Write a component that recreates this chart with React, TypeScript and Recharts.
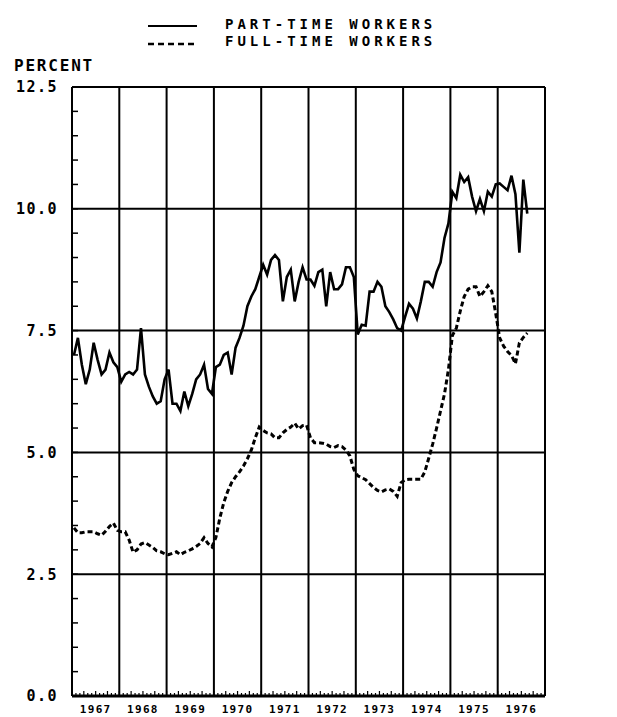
import { Line, LineChart, ReferenceLine, XAxis, YAxis } from "recharts";

// monthly values, Jan 1967 .. Aug 1976
const years = ["1967", "1968", "1969", "1970", "1971", "1972", "1973", "1974", "1975", "1976"];

const partTime = [
    7.0, 7.35, 6.8, 6.4, 6.7, 7.25, 6.9, 6.6, 6.7, 7.05, 6.85, 6.75,
    6.45, 6.6, 6.65, 6.6, 6.7, 7.55, 6.6, 6.35, 6.15, 6.0, 6.05, 6.5,
    6.7, 6.0, 6.0, 5.85, 6.25, 5.95, 6.2, 6.5, 6.6, 6.8, 6.3, 6.2,
    6.75, 6.8, 7.0, 7.05, 6.6, 7.15, 7.35, 7.6, 8.0, 8.2, 8.35, 8.6,
    8.85, 8.65, 8.95, 9.05, 8.95, 8.1, 8.6, 8.75, 8.1, 8.5, 8.8, 8.55,
    8.55, 8.42, 8.7, 8.75, 8.0, 8.7, 8.35, 8.35, 8.45, 8.8, 8.8, 8.6,
    7.42, 7.62, 7.6, 8.3, 8.3, 8.5, 8.4, 8.0, 7.88, 7.73, 7.55, 7.5,
    7.78, 8.05, 7.95, 7.75, 8.1, 8.5, 8.5, 8.4, 8.7, 8.9, 9.4, 9.7,
    10.35, 10.22, 10.7, 10.55, 10.65, 10.25, 9.95, 10.2, 9.95, 10.35, 10.25, 10.5,
    10.52, 10.45, 10.38, 10.68, 10.3, 9.1, 10.6, 9.9,
];

const fullTime = [
    3.45, 3.35, 3.35, 3.37, 3.37, 3.37, 3.33, 3.3, 3.38, 3.48, 3.55, 3.4,
    3.37, 3.37, 3.2, 2.95, 3.0, 3.12, 3.15, 3.1, 3.05, 2.98, 2.96, 2.92,
    2.9, 2.93, 2.96, 2.9, 2.95, 2.98, 3.02, 3.07, 3.13, 3.25, 3.13, 3.06,
    3.25, 3.65, 3.97, 4.2, 4.38, 4.5, 4.6, 4.72, 4.87, 5.05, 5.3, 5.52,
    5.45, 5.4, 5.38, 5.3, 5.3, 5.4, 5.47, 5.52, 5.6, 5.48, 5.55, 5.56,
    5.3, 5.2, 5.2, 5.19, 5.17, 5.12, 5.1, 5.14, 5.12, 5.05, 4.93, 4.65,
    4.52, 4.48, 4.44, 4.36, 4.28, 4.22, 4.19, 4.23, 4.25, 4.2, 4.1, 4.38,
    4.44, 4.45, 4.45, 4.45, 4.45, 4.6, 4.88, 5.17, 5.5, 5.85, 6.2, 6.7,
    7.4, 7.55, 7.9, 8.2, 8.35, 8.4, 8.4, 8.2, 8.3, 8.42, 8.3, 7.85,
    7.35, 7.18, 7.07, 6.99, 6.82, 7.25, 7.36, 7.45,
];

const majorTicks = [0, 2.5, 5, 7.5, 10, 12.5];

const data = partTime.map((v, i) => ({ month: i + 0.5, partTime: v, fullTime: fullTime[i] }));

const monthTicks = Array.from({ length: years.length * 12 + 1 }, (_, i) => i);
const yearLines = Array.from({ length: years.length - 1 }, (_, i) => (i + 1) * 12);
const minorTicks = Array.from({ length: 26 }, (_, i) => i * 0.5);

const font = "'DejaVu Sans Mono', monospace";

function MonthTick({ x, y, payload }: any) {
    const m = payload.value;
    const len = m % 3 === 0 ? 5 : 3;
    const yi = (m - 6) / 12;
    const label = Number.isInteger(yi) ? years[yi] : undefined;
    return (
        <g>
            <line x1={x} x2={x} y1={y} y2={y - len} stroke="#000" strokeWidth={1.2} />
            {label && (
                <text x={x} y={y + 17} textAnchor="middle" fontFamily={font} fontWeight="bold" fontSize={11} letterSpacing={1.3} fill="#000">
                    {label}
                </text>
            )}
        </g>
    );
}

function LeftTick({ x, y, payload }: any) {
    const v = payload.value;
    return (
        <g>
            {v > 0 && v < 12.5 && <line x1={x} x2={x + 6} y1={y} y2={y} stroke="#000" strokeWidth={1.5} />}
            {majorTicks.includes(v) && (
                <text x={x - 14} y={y} dy="0.36em" textAnchor="end" fontFamily={font} fontWeight="bold" fontSize={15} letterSpacing={1.5} fill="#000">
                    {v.toFixed(1)}
                </text>
            )}
        </g>
    );
}

function RightTick({ x, y, payload }: any) {
    const v = payload.value;
    return (
        <g>
            {v > 0 && v < 12.5 && <line x1={x} x2={x - 6} y1={y} y2={y} stroke="#000" strokeWidth={1.5} />}
            {majorTicks.includes(v) && (
                <text x={x + 10} y={y} dy="0.36em" textAnchor="start" fontFamily={font} fontWeight="bold" fontSize={15} letterSpacing={1.5} fill="#000">
                    {v.toFixed(1)}
                </text>
            )}
        </g>
    );
}

export default function App() {
    const textStyle = { fontFamily: font, fontWeight: "bold" as const, fill: "#000" };
    return (
        <div style={{ position: "absolute", left: 0, top: 0, width: 617, height: 717, background: "#fff" }}>
            <LineChart width={617} height={717} data={data} margin={{ top: 87, right: 12, bottom: 1, left: 12 }}>
                <XAxis
                    dataKey="month"
                    type="number"
                    domain={[0, years.length * 12]}
                    ticks={monthTicks}
                    interval={0}
                    height={20}
                    tickSize={0}
                    tickMargin={0}
                    tick={<MonthTick />}
                    axisLine={{ stroke: "#000", strokeWidth: 3 }}
                />
                <YAxis
                    yAxisId="left"
                    domain={[0, 12.5]}
                    ticks={minorTicks}
                    interval={0}
                    width={60}
                    tickSize={0}
                    tickMargin={0}
                    tick={<LeftTick />}
                    axisLine={{ stroke: "#000", strokeWidth: 2 }}
                />
                <YAxis
                    yAxisId="right"
                    orientation="right"
                    domain={[0, 12.5]}
                    ticks={minorTicks}
                    interval={0}
                    width={60}
                    tickSize={0}
                    tickMargin={0}
                    tick={<RightTick />}
                    axisLine={{ stroke: "#000", strokeWidth: 2 }}
                />
                {yearLines.map((m) => (
                    <ReferenceLine key={"x" + m} x={m} yAxisId="left" stroke="#000" strokeWidth={2} />
                ))}
                {majorTicks.slice(1).map((v) => (
                    <ReferenceLine key={"y" + v} y={v} yAxisId="left" stroke="#000" strokeWidth={2} />
                ))}
                <Line
                    yAxisId="left"
                    type="linear"
                    dataKey="partTime"
                    stroke="#000"
                    strokeWidth={2.6}
                    dot={false}
                    isAnimationActive={false}
                />
                <Line
                    yAxisId="left"
                    type="linear"
                    dataKey="fullTime"
                    stroke="#000"
                    strokeWidth={3}
                    strokeDasharray="5 3"
                    dot={false}
                    isAnimationActive={false}
                />
            </LineChart>
            <svg width={617} height={80} style={{ position: "absolute", left: 0, top: 0 }}>
                <line x1={148} x2={197} y1={26} y2={26} stroke="#000" strokeWidth={2} />
                <line x1={148} x2={197} y1={44} y2={44} stroke="#000" strokeWidth={2.5} strokeDasharray="6 4" />
                <text x={225} y={29} fontSize={14} letterSpacing={4} {...textStyle}>
                    PART-TIME WORKERS
                </text>
                <text x={225} y={46} fontSize={14} letterSpacing={4} {...textStyle}>
                    FULL-TIME WORKERS
                </text>
                <text x={14} y={71} fontSize={16} letterSpacing={1.8} {...textStyle}>
                    PERCENT
                </text>
            </svg>
        </div>
    );
}
